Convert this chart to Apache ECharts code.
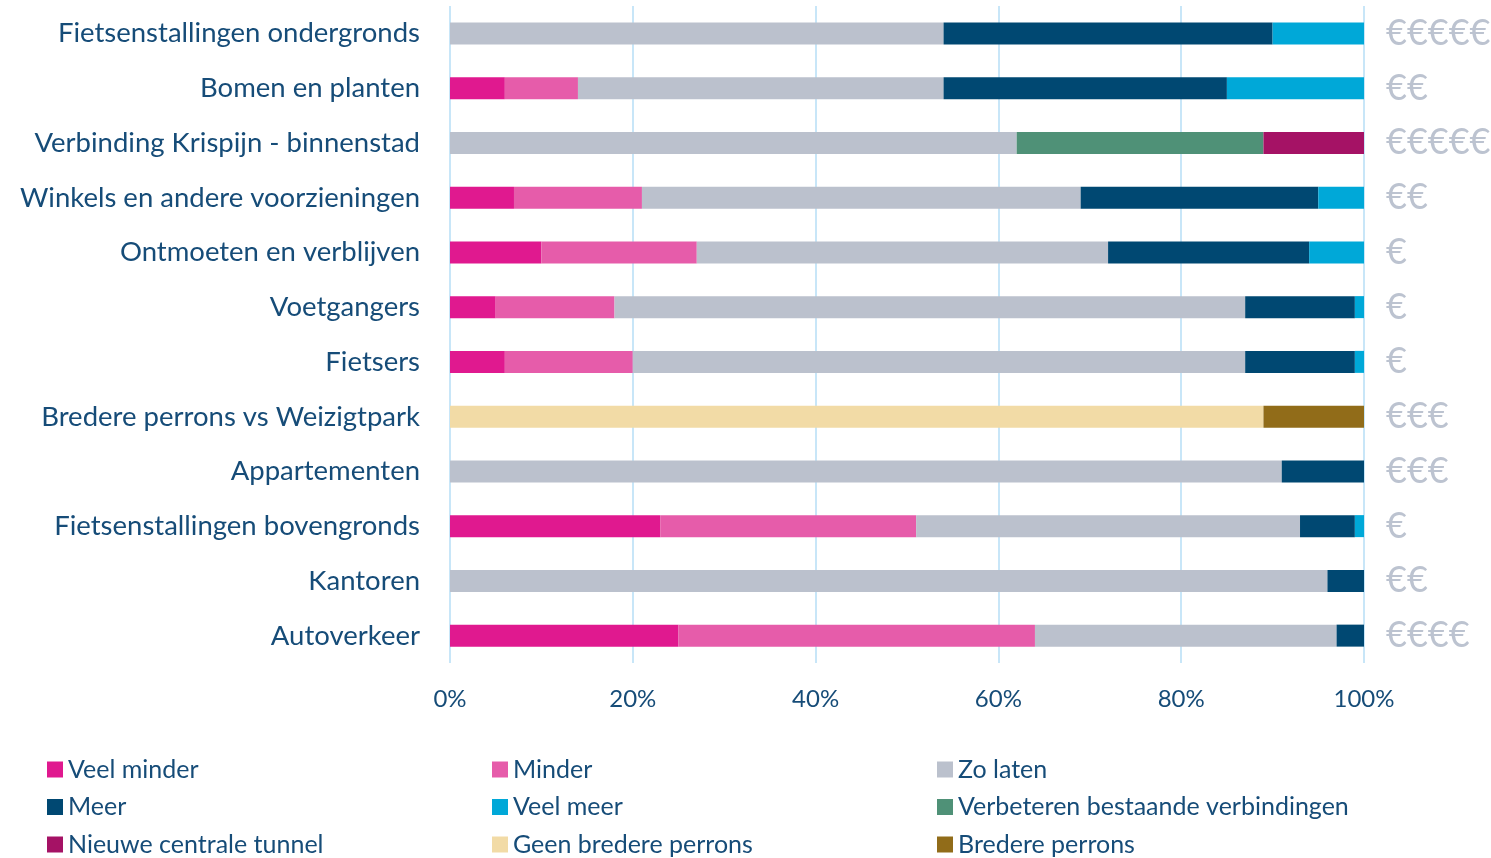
<!DOCTYPE html>
<html lang="nl">
<head>
    <meta charset="utf-8" />
    <title>Stemmen per onderwerp</title>
    <script src="https://cdn.jsdelivr.net/npm/echarts@6/dist/echarts.min.js"></script>
    <style>
        body { margin: 0; background: #fff; }
    </style>
</head>
<body>
    <div id="main" style="width:1491px;height:858px"></div>
    <script>
        // categorieen van boven naar beneden
        var categories = ['Fietsenstallingen ondergronds', 'Bomen en planten', 'Verbinding Krispijn - binnenstad',
            'Winkels en andere voorzieningen', 'Ontmoeten en verblijven', 'Voetgangers', 'Fietsers',
            'Bredere perrons vs Weizigtpark', 'Appartementen', 'Fietsenstallingen bovengronds', 'Kantoren', 'Autoverkeer'];
        var kosten = ['€€€€€', '€€', '€€€€€', '€€', '€', '€', '€', '€€€', '€€€', '€', '€€', '€€€€'];
        var xTicks = [0, 20, 40, 60, 80, 100];

        // percentages per antwoord
        var veelMinder = [0, 6, 0, 7, 10, 5, 6, 0, 0, 23, 0, 25];
        var minder = [0, 8, 0, 14, 17, 13, 14, 0, 0, 28, 0, 39];
        var zoLaten = [54, 40, 62, 48, 45, 69, 67, 0, 91, 42, 96, 33];
        var geenBredere = [0, 0, 0, 0, 0, 0, 0, 89, 0, 0, 0, 0];
        var meer = [36, 31, 0, 26, 22, 12, 12, 0, 9, 6, 4, 3];
        var veelMeer = [10, 15, 0, 5, 6, 1, 1, 0, 0, 1, 0, 0];
        var verbeteren = [0, 0, 27, 0, 0, 0, 0, 0, 0, 0, 0, 0];
        var tunnel = [0, 0, 11, 0, 0, 0, 0, 0, 0, 0, 0, 0];
        var bredere = [0, 0, 0, 0, 0, 0, 0, 11, 0, 0, 0, 0];

        var tekstKleur = '#164C78';

        function bar(name, data, color) {
            return {
                name: name,
                type: 'bar',
                stack: 'totaal',
                barWidth: 22,
                yAxisIndex: 0,
                itemStyle: { color: color },
                emphasis: { disabled: true },
                data: data
            };
        }

        // één kolom van de legenda
        function legendCol(left, names) {
            return {
                orient: 'vertical',
                left: left,
                top: 757,
                height: 120,
                padding: 0,
                icon: 'rect',
                itemWidth: 16,
                itemHeight: 16,
                itemGap: 12.5,
                selectedMode: false,
                textStyle: { color: tekstKleur, fontSize: 25, lineHeight: 25, fontFamily: 'Lato' },
                data: names
            };
        }

        var myChart = echarts.init(document.getElementById('main'));
        var option = {
            animation: false,
            grid: { left: 450, right: 127, top: 6, bottom: 195, outerBoundsMode: 'none' },
            legend: [
                legendCol(47, ['Veel minder', 'Meer', 'Nieuwe centrale tunnel']),
                legendCol(492, ['Minder', 'Veel meer', 'Geen bredere perrons']),
                legendCol(937, ['Zo laten', 'Verbeteren bestaande verbindingen', 'Bredere perrons'])
            ],
            xAxis: {
                type: 'value',
                min: xTicks[0],
                max: xTicks[xTicks.length - 1],
                interval: 20,
                axisLine: { show: false },
                axisTick: { show: false },
                axisLabel: {
                    formatter: '{value}%',
                    color: tekstKleur,
                    fontSize: 24,
                    fontFamily: 'Lato',
                    margin: 24
                },
                splitLine: { lineStyle: { color: '#C8E6F8', width: 2 } }
            },
            yAxis: [{
                type: 'category',
                inverse: true,
                data: categories,
                axisLine: { show: false },
                axisTick: { show: false },
                axisLabel: { color: tekstKleur, fontSize: 27.5, fontFamily: 'Lato', margin: 30 }
            }, {
                type: 'category',
                inverse: true,
                position: 'right',
                data: kosten,
                axisLine: { show: false },
                axisTick: { show: false },
                axisLabel: { color: '#BCC3D0', fontSize: 36, fontFamily: 'Lato', margin: 22, align: 'left' }
            }],
            series: [
                bar('Veel minder', veelMinder, '#E0198F'),
                bar('Minder', minder, '#E65CAA'),
                bar('Zo laten', zoLaten, '#BBC1CD'),
                bar('Geen bredere perrons', geenBredere, '#F2DBA6'),
                bar('Meer', meer, '#004872'),
                bar('Veel meer', veelMeer, '#00A8D8'),
                bar('Verbeteren bestaande verbindingen', verbeteren, '#4F9177'),
                bar('Nieuwe centrale tunnel', tunnel, '#A51265'),
                bar('Bredere perrons', bredere, '#916C19')
            ]
        };
        myChart.setOption(option);
    </script>
</body>
</html>
